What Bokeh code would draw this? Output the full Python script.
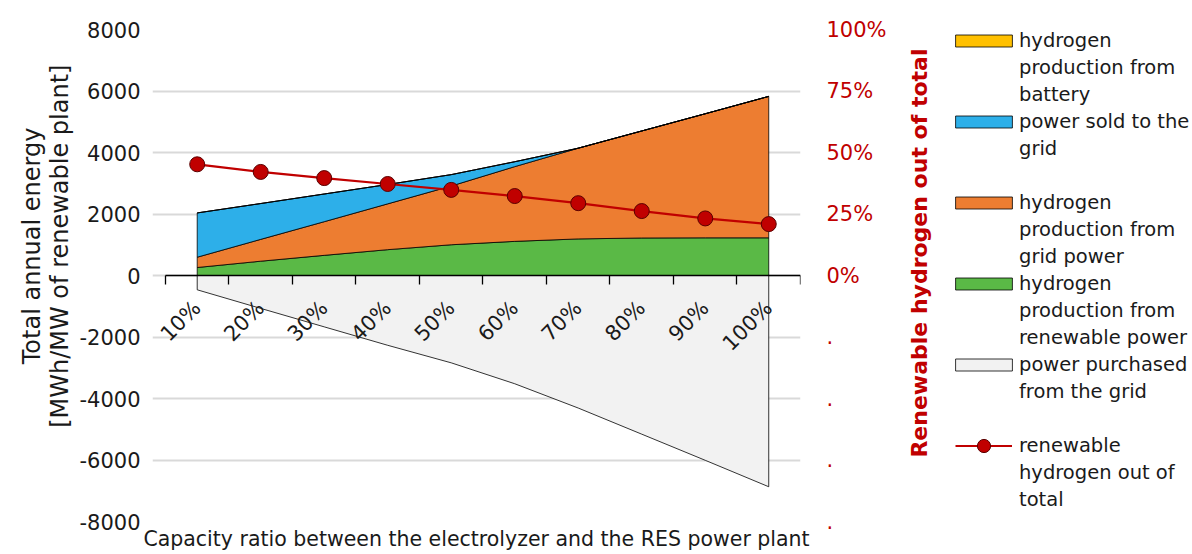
import math
from bokeh.plotting import figure
from bokeh.layouts import row
from bokeh.models import (Range1d, LinearAxis, FixedTicker, CustomJSTickFormatter,
                          Legend, LegendItem)
from bokeh.embed import file_html
from bokeh.resources import INLINE

# ---------------- data ----------------
ratio_labels = ["10%", "20%", "30%", "40%", "50%", "60%", "70%", "80%", "90%", "100%"]
ratio_pos = [1, 2, 3, 4, 5, 6, 7, 8, 9, 10]

h2_renewable = [260, 465, 655, 840, 1000, 1110, 1190, 1220, 1225, 1225]
h2_grid = [335, 710, 1095, 1490, 1910, 2430, 2950, 3480, 4035, 4600]
power_sold = [1440, 1165, 900, 630, 370, 160, 0, 0, 0, 0]
h2_battery = [0, 0, 0, 0, 0, 0, 0, 0, 0, 0]
power_purchased = [-465, -1070, -1670, -2270, -2840, -3520, -4310, -5160, -6010, -6870]
renewable_share = [0.452, 0.421, 0.396, 0.372, 0.348, 0.323, 0.294, 0.262, 0.232, 0.209]

left_ticks = [-8000, -6000, -4000, -2000, 0, 2000, 4000, 6000, 8000]
right_ticks = [-1.0, -0.75, -0.5, -0.25, 0.0, 0.25, 0.5, 0.75, 1.0]

y_title_lines = ["Total annual energy", "[MWh/MW of renewable plant]"]
y2_title = "Renewable hydrogen out of total"
x_title = "Capacity ratio between the electrolyzer and the RES power plant"

# legend text, one entry per line; a key marks the line that carries the swatch
legend_rows = [
    ("batt", "hydrogen"), (None, "production from"), (None, "battery"),
    ("sold", "power sold to the"), (None, "grid"), (None, ""),
    ("grid", "hydrogen"), (None, "production from"), (None, "grid power"),
    ("renew", "hydrogen"), (None, "production from"), (None, "renewable power"),
    ("purch", "power purchased"), (None, "from the grid"), (None, ""),
    (None, ""), (None, "hydrogen out of"), (None, "total"),
]
line_legend_label = "renewable"

FONT = "DejaVu Sans"
RED = "#C00000"
TXT = "#1a1a1a"
colors = {"renew": "#5AB946", "grid": "#ED7D31", "sold": "#2DAFE9",
          "batt": "#FFC000", "purch": "#F2F2F2"}

p = figure(width=889, height=554,
           x_range=Range1d(0.296, 10.5), y_range=Range1d(-8000, 8000),
           output_backend="svg", toolbar_location=None,
           min_border_left=152, min_border_right=86, min_border_top=29,
           min_border_bottom=33)
p.outline_line_color = None
p.extra_y_ranges = {"pct": Range1d(-1, 1)}

# stacked areas built from the series
def cum(*arrs):
    return [sum(v) for v in zip(*arrs)]

b0 = [0] * len(ratio_pos)
b1 = cum(h2_renewable)
b2 = cum(h2_renewable, h2_grid)
b3 = cum(h2_renewable, h2_grid, power_sold)
b4 = cum(h2_renewable, h2_grid, power_sold, h2_battery)

def band(lo, hi):
    return ratio_pos + ratio_pos[::-1], hi + lo[::-1]

layers = [
    ("renew", b0, b1), ("grid", b1, b2), ("sold", b2, b3),
    ("batt", b3, b4), ("purch", power_purchased, b0),
]
for key, lo, hi in layers:
    xs, ys = band(lo, hi)
    p.patch(xs, ys, fill_color=colors[key], line_color="black", line_width=0.8)

p.line(ratio_pos, renewable_share, y_range_name="pct", line_color=RED, line_width=2.2)
p.scatter(ratio_pos, renewable_share, y_range_name="pct", size=15,
          fill_color=RED, line_color="#5a0000", line_width=1)

# left axis
ya = p.yaxis[0]
ya.ticker = FixedTicker(ticks=left_ticks)
ya.formatter = CustomJSTickFormatter(code="return tick.toString();")
ya.axis_line_color = None
ya.major_tick_line_color = None
ya.minor_tick_line_color = None
ya.major_tick_out = 0
ya.major_tick_in = 0
ya.major_label_text_font = FONT
ya.major_label_text_font_size = "21px"
ya.major_label_text_color = TXT
ya.major_label_standoff = 12

p.ygrid.ticker = FixedTicker(ticks=left_ticks)
p.ygrid.grid_line_color = "#D9D9D9"
p.ygrid.grid_line_width = 2
p.xgrid.visible = False

# rotated one-line titles carried by tick-less axes (text ends at the tick)
def title_axis(text, at, standoff, size, color, bold=False):
    return LinearAxis(
        ticker=FixedTicker(ticks=[at]),
        formatter=CustomJSTickFormatter(args=dict(t=text), code="return t;"),
        major_label_orientation=math.pi / 2,
        axis_line_color=None, major_tick_line_color=None, minor_tick_line_color=None,
        major_tick_out=0, major_tick_in=0,
        major_label_standoff=standoff,
        major_label_text_font=FONT, major_label_text_font_size=size,
        major_label_text_font_style="bold" if bold else "normal",
        major_label_text_color=color)

p.add_layout(title_axis(y_title_lines[1], 6860, 16, "24px", TXT), "left")
p.add_layout(title_axis(y_title_lines[0], 4810, -3, "24px", TXT), "left")

# bottom axis used only for the title
xa = p.xaxis[0]
xa.ticker = FixedTicker(ticks=[])
xa.axis_line_color = None
xa.major_tick_line_color = None
xa.minor_tick_line_color = None
xa.major_tick_out = 0
xa.axis_label = x_title
xa.axis_label_text_font = FONT
xa.axis_label_text_font_size = "20.5px"
xa.axis_label_text_font_style = "normal"
xa.axis_label_text_color = TXT
xa.axis_label_standoff = 5

# category axis crossing at zero
cat_axis = LinearAxis(
    fixed_location=0, bounds=(0.5, 10.5),
    ticker=FixedTicker(ticks=ratio_pos, minor_ticks=[v - 0.5 for v in ratio_pos] + [ratio_pos[-1] + 0.5]),
    formatter=CustomJSTickFormatter(args=dict(labels=ratio_labels),
                                    code="return labels[Math.round(tick) - 1];"),
    major_label_orientation=math.pi / 4,
    major_tick_line_color=None, major_tick_out=0, major_tick_in=0,
    minor_tick_line_color="black", minor_tick_out=9, minor_tick_in=0, minor_tick_line_width=1.3,
    axis_line_color="black", axis_line_width=1.5,
    major_label_text_font=FONT, major_label_text_font_size="21px",
    major_label_text_color=TXT, major_label_standoff=20)
p.add_layout(cat_axis, "below")

# right axis
ra = LinearAxis(y_range_name="pct", ticker=FixedTicker(ticks=right_ticks),
                formatter=CustomJSTickFormatter(code="return tick < 0 ? '.' : Math.round(tick * 100) + '%';"),
                axis_line_color=None, major_tick_line_color=None, minor_tick_line_color=None,
                major_tick_out=0, major_tick_in=0,
                major_label_text_font=FONT, major_label_text_font_size="21px",
                major_label_text_color=RED, major_label_standoff=26)
p.add_layout(ra, "right")

# ---------- side panel: right-axis title + legend ----------
p2 = figure(width=303, height=554, x_range=Range1d(-1, 0), y_range=Range1d(-8000, 8000),
            x_axis_type=None, y_axis_type=None,
            output_backend="svg", toolbar_location=None,
            min_border_left=42, min_border_right=0, min_border_top=29, min_border_bottom=33)
p2.outline_line_color = None
p2.add_layout(title_axis(y2_title, 7380, 12, "22px", RED, bold=True), "left")

# legend swatches: same series and styles, drawn outside this panel's visible range
proxy = {}
for key, lo, hi in layers:
    xs, ys = band(lo, hi)
    proxy[key] = [p2.patch(xs, ys, fill_color=colors[key], line_color="black", line_width=0.8)]
line_proxy = [p2.line(ratio_pos, renewable_share, line_color=RED, line_width=2.2),
              p2.scatter(ratio_pos, renewable_share, size=15, fill_color=RED,
                         line_color="#5a0000", line_width=1)]
blank = [p2.scatter(ratio_pos, renewable_share, fill_alpha=0, line_alpha=0)]

legend_style = dict(orientation="vertical", padding=0, spacing=0, margin=0,
                    border_line_color=None, background_fill_alpha=0,
                    label_text_font=FONT, label_text_font_size="19.5px", label_text_color=TXT)

items = [LegendItem(label=txt, renderers=(proxy[key] if key else blank)) for key, txt in legend_rows]
legend = Legend(items=items, location=(17, 8), glyph_width=71, glyph_height=15,
                label_height=27, label_standoff=0, **legend_style)
p2.add_layout(legend, "center")

legend_line = Legend(items=[LegendItem(label=line_legend_label, renderers=line_proxy)],
                     location=(24, 59), glyph_width=57, glyph_height=33,
                     label_height=27, label_standoff=7, **legend_style)
p2.add_layout(legend_line, "center")

open("out.html", "w").write(file_html(row(p, p2), INLINE))
